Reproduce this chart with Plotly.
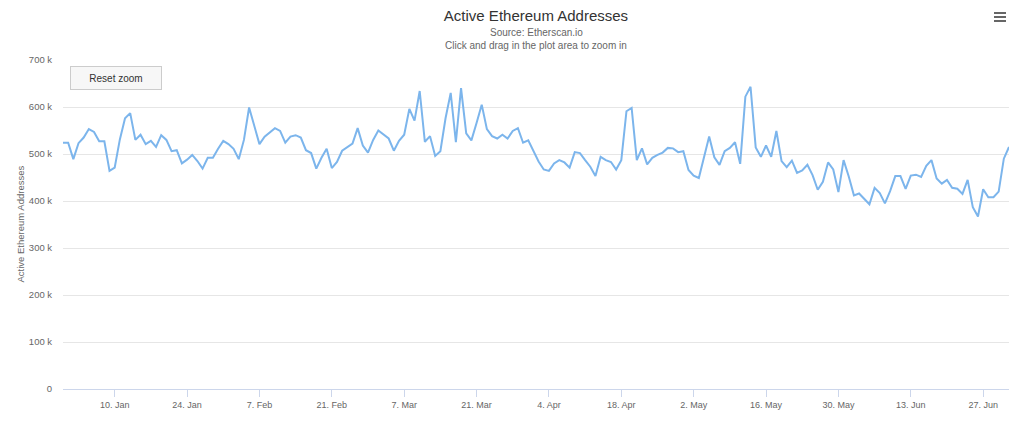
import pandas as pd
import plotly.graph_objects as go

# ---- data -------------------------------------------------------------
START_DATE = "2017-12-31"   # first daily observation
active_addresses_k = [
    524, 524, 489, 523, 535, 553, 547, 527, 527, 464, 471, 531, 576, 587, 530, 541,
    521, 528, 515, 540, 530, 506, 508, 480, 488, 498, 485, 469, 492, 492, 511, 528,
    521, 511, 489, 530, 599,
    558, 521, 537, 546, 555, 549, 524, 537, 540, 535, 508, 502, 469, 492, 511, 470,
    483, 507, 515, 522, 555, 518, 503, 530, 550, 542, 533, 507, 528, 541, 596, 571,
    634, 526, 538, 496,
    506, 576, 630, 525, 640, 544, 529, 566, 605, 553, 538, 533, 541, 533, 549, 555,
    524, 529, 508, 484, 467, 464, 480, 487, 482, 471, 504, 502, 487, 473, 453, 494,
    487, 483, 467, 487,
    591, 598, 487, 512, 478, 492, 498, 503, 513, 512, 504, 506, 466, 454, 449, 492,
    537, 493, 477, 506, 513, 525, 479, 622, 643, 514, 494, 518, 494, 549, 485, 472,
    486, 460, 465, 477, 455, 424,
    441, 482, 467, 419, 487, 452, 412, 416, 404, 393, 428, 417, 395, 421, 453, 453,
    426, 454, 456, 451, 475, 487, 448, 437, 445, 428, 426, 415, 445, 387, 367, 425,
    408, 408, 420, 490, 515,
]
dates = pd.date_range(START_DATE, periods=len(active_addresses_k), freq="D")
values = [v * 1000 for v in active_addresses_k]

y_tick_vals = [0, 100000, 200000, 300000, 400000, 500000, 600000, 700000]
y_tick_text = ["0", "100 k", "200 k", "300 k", "400 k", "500 k", "600 k", "700 k"]
x_tick_first = "2018-01-10"

TITLE = "Active Ethereum Addresses"
SUBTITLE_1 = "Source: Etherscan.io"
SUBTITLE_2 = "Click and drag in the plot area to zoom in"
Y_TITLE = "Active Ethereum Addresses"

FONT = "Liberation Sans, Arial, sans-serif"

# ---- figure -----------------------------------------------------------
fig = go.Figure()
fig.add_trace(go.Scatter(
    x=dates, y=values, mode="lines",
    line=dict(color="#7cb5ec", width=2),
    name=Y_TITLE, showlegend=False,
))

fig.update_layout(
    width=1024, height=429,
    margin=dict(l=63, r=15, t=60, b=40),
    paper_bgcolor="white", plot_bgcolor="white",
    font=dict(family=FONT, color="#666666"),
    title=dict(text=TITLE, x=0.5, xanchor="center", xref="paper",
               y=1 - 16 / 429, yref="container", yanchor="middle",
               font=dict(size=15, color="#333333", family=FONT)),
    showlegend=False,
)

fig.update_xaxes(
    type="date",
    range=[dates[0], dates[-1]],
    showgrid=False, zeroline=False,
    showline=True, linecolor="#ccd6eb", linewidth=1,
    ticks="outside", ticklen=7, tickcolor="#ccd6eb", tickwidth=1,
    tick0=x_tick_first, dtick=14 * 86400000, tickformat="%-d. %b",
    tickfont=dict(size=9, color="#666666", family=FONT),
)
fig.update_yaxes(
    range=[0, 700000],
    tickmode="array", tickvals=y_tick_vals, ticktext=y_tick_text,
    showgrid=True, gridcolor="#e6e6e6", gridwidth=1,
    zeroline=False, showline=False,
    ticks="outside", ticklen=8, tickcolor="rgba(0,0,0,0)",
    tickfont=dict(size=9.5, color="#666666", family=FONT),
)

annotations = [
    dict(text=SUBTITLE_1, xref="paper", yref="paper", x=0.5, y=(389 - 33) / 329,
         xanchor="center", yanchor="middle", showarrow=False,
         font=dict(size=10, color="#666666", family=FONT)),
    dict(text=SUBTITLE_2, xref="paper", yref="paper", x=0.5, y=(389 - 45) / 329,
         xanchor="center", yanchor="middle", showarrow=False,
         font=dict(size=10, color="#666666", family=FONT)),
    dict(text=Y_TITLE, xref="paper", yref="paper", x=(20 - 63) / 946, y=0.5,
         xanchor="center", yanchor="middle", textangle=-90, showarrow=False,
         font=dict(size=9.5, color="#666666", family=FONT)),
    dict(text="Reset zoom", xref="paper", yref="paper",
         x=(116 - 63) / 946, y=(389 - 78) / 329,
         xanchor="center", yanchor="middle", showarrow=False,
         width=88, height=20, borderpad=1, borderwidth=1,
         bordercolor="#cccccc", bgcolor="#f7f7f7",
         font=dict(size=10, color="#333333", family=FONT)),
]
fig.update_layout(annotations=annotations)

# hamburger (context menu) icon
shapes = []
for py in (13, 17, 21):
    yy = (389 - py) / 329
    shapes.append(dict(type="line", xref="paper", yref="paper",
                       x0=(994 - 63) / 946, x1=(1006 - 63) / 946, y0=yy, y1=yy,
                       line=dict(color="#666666", width=2)))
fig.update_layout(shapes=shapes)

fig.write_html(
    "out.html",
    config={"displayModeBar": False},
    post_script="document.body.style.margin='0px';document.body.style.overflow='hidden';",
)
